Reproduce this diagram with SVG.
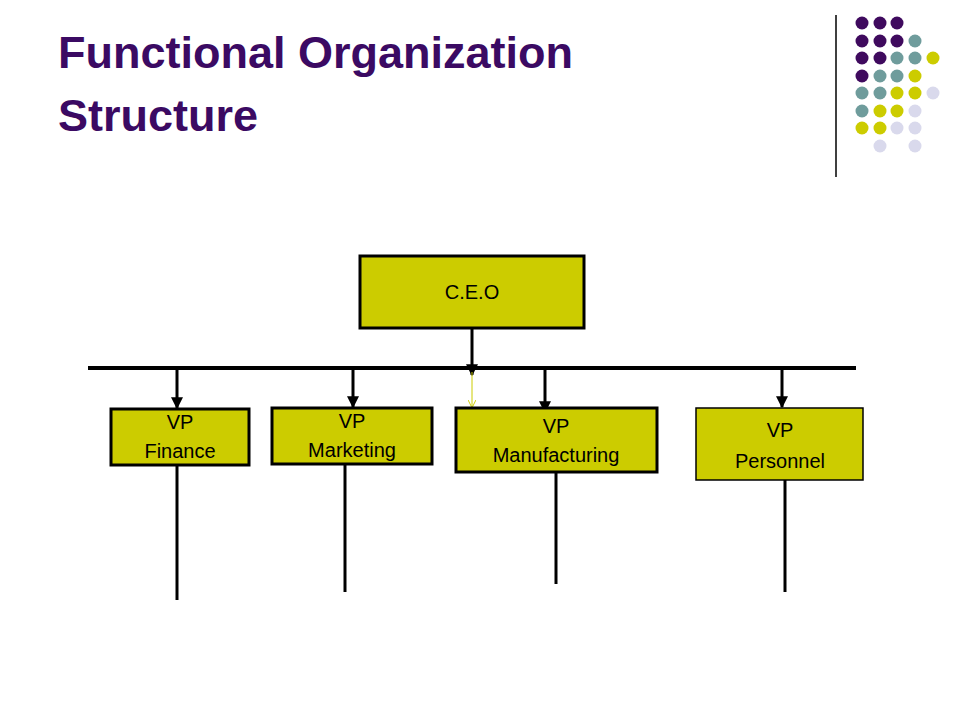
<svg xmlns="http://www.w3.org/2000/svg" width="960" height="720" viewBox="0 0 960 720">
<defs>
<marker id="ah" viewBox="0 0 10 10" refX="9" refY="5" markerWidth="4" markerHeight="4" orient="auto"><path d="M0,0 L10,5 L0,10 z" fill="#000"/></marker>
<marker id="ya" viewBox="0 0 10 10" refX="9" refY="5" markerWidth="8" markerHeight="8" orient="auto" markerUnits="userSpaceOnUse"><path d="M0,0 L10,5 L0,10" fill="none" stroke="#CCCC00" stroke-width="1.2"/></marker>
</defs>
<style>
.t{font-family:"Liberation Sans",Arial,sans-serif;font-weight:bold;font-size:45px;fill:#3B0A63}
.b{fill:#CCCC00;stroke:#000;stroke-width:3}
.l{font-family:"Liberation Sans",Arial,sans-serif;font-size:20px;fill:#000;text-anchor:middle}
.c{stroke:#000;stroke-width:3;fill:none}
.P{fill:#3F0A5E}.T{fill:#6F9C9C}.Y{fill:#CCCC00}.L{fill:#D9D9EC}
</style>
<rect width="960" height="720" fill="#fff"/>
<text class="t" x="58" y="68">Functional Organization</text>
<text class="t" x="58" y="131">Structure</text>
<line x1="836" y1="15" x2="836" y2="177" stroke="#000" stroke-width="1.5"/>
<g id="dots">
<circle class="P" cx="862" cy="23" r="6.5"/><circle class="P" cx="880" cy="23" r="6.5"/><circle class="P" cx="897" cy="23" r="6.5"/>
<circle class="P" cx="862" cy="41" r="6.5"/><circle class="P" cx="880" cy="41" r="6.5"/><circle class="P" cx="897" cy="41" r="6.5"/><circle class="T" cx="915" cy="41" r="6.5"/>
<circle class="P" cx="862" cy="58" r="6.5"/><circle class="P" cx="880" cy="58" r="6.5"/><circle class="T" cx="897" cy="58" r="6.5"/><circle class="T" cx="915" cy="58" r="6.5"/><circle class="Y" cx="933" cy="58" r="6.5"/>
<circle class="P" cx="862" cy="76" r="6.5"/><circle class="T" cx="880" cy="76" r="6.5"/><circle class="T" cx="897" cy="76" r="6.5"/><circle class="Y" cx="915" cy="76" r="6.5"/>
<circle class="T" cx="862" cy="93" r="6.5"/><circle class="T" cx="880" cy="93" r="6.5"/><circle class="Y" cx="897" cy="93" r="6.5"/><circle class="Y" cx="915" cy="93" r="6.5"/><circle class="L" cx="933" cy="93" r="6.5"/>
<circle class="T" cx="862" cy="111" r="6.5"/><circle class="Y" cx="880" cy="111" r="6.5"/><circle class="Y" cx="897" cy="111" r="6.5"/><circle class="L" cx="915" cy="111" r="6.5"/>
<circle class="Y" cx="862" cy="128" r="6.5"/><circle class="Y" cx="880" cy="128" r="6.5"/><circle class="L" cx="897" cy="128" r="6.5"/><circle class="L" cx="915" cy="128" r="6.5"/>
<circle class="L" cx="880" cy="146" r="6.5"/><circle class="L" cx="915" cy="146" r="6.5"/>
</g>
<g id="connectors">
<line x1="88" y1="368" x2="856" y2="368" stroke="#000" stroke-width="4"/>
<line class="c" x1="472" y1="328" x2="472" y2="375" marker-end="url(#ah)"/>
<line x1="472" y1="372" x2="472" y2="407" stroke="#CCCC00" stroke-width="1" marker-end="url(#ya)"/>
<line class="c" x1="177" y1="368" x2="177" y2="408" marker-end="url(#ah)"/>
<line class="c" x1="353" y1="368" x2="353" y2="407" marker-end="url(#ah)"/>
<line class="c" x1="545" y1="368" x2="545" y2="412" marker-end="url(#ah)"/>
<line class="c" x1="782" y1="368" x2="782" y2="407" marker-end="url(#ah)"/>
<line class="c" x1="177" y1="465" x2="177" y2="600"/>
<line class="c" x1="345" y1="464" x2="345" y2="592"/>
<line class="c" x1="556" y1="472" x2="556" y2="584"/>
<line class="c" x1="785" y1="480" x2="785" y2="592"/>
</g>
<g id="ceo"><rect class="b" x="360" y="256" width="224" height="72"/><text class="l" x="472" y="299">C.E.O</text></g>
<g id="finance"><rect class="b" x="111" y="409" width="138" height="56"/><text class="l" x="180" y="429">VP</text><text class="l" x="180" y="458">Finance</text></g>
<g id="marketing"><rect class="b" x="272" y="408" width="160" height="56"/><text class="l" x="352" y="428">VP</text><text class="l" x="352" y="457">Marketing</text></g>
<g id="manufacturing"><rect class="b" x="456" y="408" width="201" height="64"/><text class="l" x="556" y="433">VP</text><text class="l" x="556" y="462">Manufacturing</text></g>
<g id="personnel"><rect class="b" x="696" y="408" width="167" height="72" style="stroke-width:1.5"/><text class="l" x="780" y="437">VP</text><text class="l" x="780" y="468">Personnel</text></g>
</svg>
